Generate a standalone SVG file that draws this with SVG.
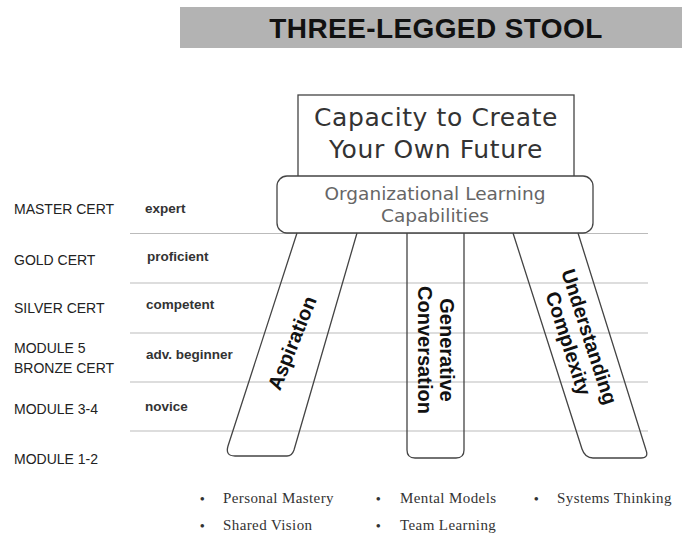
<svg xmlns="http://www.w3.org/2000/svg" width="682" height="537" viewBox="0 0 682 537">
<style>
.lvl{font-family:"Liberation Sans",Arial,sans-serif;font-size:14px;fill:#222}
.stg{font-family:"Liberation Sans",Arial,sans-serif;font-size:13.5px;font-weight:bold;fill:#333}
.leg{fill:none;stroke:#444;stroke-width:1.3}
.legt{font-family:"Liberation Sans",Arial,sans-serif;font-size:20px;font-weight:bold;fill:#111;text-anchor:middle}
.grid{stroke:#bbb;stroke-width:1.2}
.bul{font-family:"Liberation Serif","Times New Roman",serif;font-size:15px;fill:#333;letter-spacing:0.4px}
.dot{font-family:"Liberation Serif","Times New Roman",serif;font-size:13px;fill:#333;font-weight:bold}
</style>
<rect width="682" height="537" fill="#fff"/>
<g id="title">
<rect x="180" y="7" width="502" height="41" fill="#b3b3b3"/>
<text x="436" y="38" text-anchor="middle" font-family="Liberation Sans,Arial,sans-serif" font-size="28" font-weight="bold" letter-spacing="0.4" fill="#111">THREE-LEGGED STOOL</text>
</g>
<g id="grid">
<line class="grid" x1="130" y1="233.5" x2="648" y2="233.5"/>
<line class="grid" x1="130" y1="283" x2="648" y2="283"/>
<line class="grid" x1="130" y1="333" x2="648" y2="333"/>
<line class="grid" x1="130" y1="382" x2="648" y2="382"/>
<line class="grid" x1="130" y1="431" x2="648" y2="431"/>
</g>
<g id="levels">
<text class="lvl" x="14" y="214">MASTER CERT</text>
<text class="lvl" x="14" y="265">GOLD CERT</text>
<text class="lvl" x="14" y="313">SILVER CERT</text>
<text class="lvl" x="14" y="353">MODULE 5</text>
<text class="lvl" x="14" y="373">BRONZE CERT</text>
<text class="lvl" x="14" y="414">MODULE 3-4</text>
<text class="lvl" x="14" y="464">MODULE 1-2</text>
<text class="stg" x="145" y="213">expert</text>
<text class="stg" x="147" y="261">proficient</text>
<text class="stg" x="146" y="309">competent</text>
<text class="stg" x="146" y="359">adv. beginner</text>
<text class="stg" x="145" y="411">novice</text>
</g>
<g id="capacity">
<rect x="298" y="95" width="276" height="82" fill="#fff" stroke="#444" stroke-width="1.3"/>
<text x="436" y="126" text-anchor="middle" font-family="DejaVu Sans,Verdana,sans-serif" font-size="25" letter-spacing="0.6" fill="#333">Capacity to Create</text>
<text x="436" y="158" text-anchor="middle" font-family="DejaVu Sans,Verdana,sans-serif" font-size="25" letter-spacing="0.6" fill="#333">Your Own Future</text>
</g>
<g id="org">
<rect x="277" y="176" width="316" height="57" rx="10" fill="#fff" stroke="#444" stroke-width="1.3"/>
<text x="435" y="200" text-anchor="middle" font-family="DejaVu Sans,Verdana,sans-serif" font-size="18.5" fill="#666">Organizational Learning</text>
<text x="435" y="222" text-anchor="middle" font-family="DejaVu Sans,Verdana,sans-serif" font-size="18.5" fill="#666">Capabilities</text>
</g>
<g id="aspiration">
<path class="leg" d="M297 233 L228 446 Q225 456 235 456 L287 456 Q292 456 294 450 L357 233"/>
<text class="legt" transform="translate(292 343) rotate(-68)" y="7">Aspiration</text>
</g>
<g id="generative">
<path class="leg" d="M407 233 L407 450 Q407 458 415 458 L456 458 Q464 458 464 450 L464 233"/>
<text class="legt" transform="translate(436 350) rotate(90)"><tspan x="0" y="-4">Generative</tspan><tspan x="0" y="18">Conversation</tspan></text>
</g>
<g id="understanding">
<path class="leg" d="M513 233 L582 449 Q585 458 593 458 L641 458 Q649 458 646 450 L578 233"/>
<text class="legt" transform="translate(579 340) rotate(72)"><tspan x="0" y="-4">Understanding</tspan><tspan x="0" y="18">Complexity</tspan></text>
</g>
<g id="disciplines">
<text class="dot" x="200" y="503">•</text><text class="bul" x="223" y="503">Personal Mastery</text>
<text class="dot" x="376" y="503">•</text><text class="bul" x="400" y="503">Mental Models</text>
<text class="dot" x="534" y="503">•</text><text class="bul" x="557" y="503">Systems Thinking</text>
<text class="dot" x="200" y="530">•</text><text class="bul" x="223" y="530">Shared Vision</text>
<text class="dot" x="376" y="530">•</text><text class="bul" x="400" y="530">Team Learning</text>
</g>
</svg>
